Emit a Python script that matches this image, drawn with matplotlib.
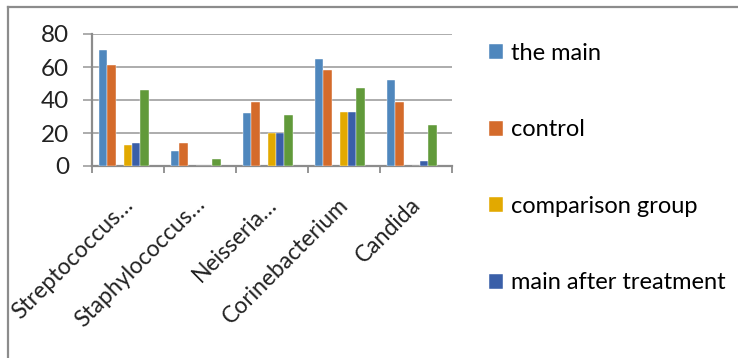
import matplotlib
matplotlib.use("Agg")
import matplotlib.pyplot as plt
import matplotlib.transforms as mtransforms
import numpy as np

# Microflora counts per group
categories = ["Streptococcus…", "Staphylococcus…", "Neisseria…", "Corinebacterium", "Candida"]
series_names = ["the main", "control", "comparison group", "main after treatment", "fifth group"]
the_main = [70, 9, 32, 65, 52]
control = [61, 14, 39, 58, 39]
comparison_group = [13, 0, 20, 33, 0]
main_after_treatment = [14, 0, 20, 33, 3]
fifth_group = [46, 4, 31, 47, 25]
y_ticks = [0, 20, 40, 60, 80]

series = [the_main, control, comparison_group, main_after_treatment, fifth_group]
colors = ["#4f87bd", "#d46b2b", "#e2a900", "#3a5fa8", "#619a3a"]
# slot index of each series inside a category (slots 2 and 6 stay empty)
slots = [0, 1, 3, 4, 5]
n_slots = 7

FONT = "Lato"
W, H = 738, 358
fig = plt.figure(figsize=(W / 100, H / 100), dpi=100)

# outer frame lines (left and top)
fig.add_artist(plt.Line2D([7.5 / W, 7.5 / W], [0, 1 - 6.5 / H], transform=fig.transFigure,
                          color="#8c8c8c", lw=1.6))
fig.add_artist(plt.Line2D([7.5 / W, 1], [1 - 6.5 / H, 1 - 6.5 / H], transform=fig.transFigure,
                          color="#8c8c8c", lw=1.6))

x0, x1 = 92, 452
y_top, y_bot = 34, 166
ax = fig.add_axes([x0 / W, 1 - y_bot / H, (x1 - x0) / W, (y_bot - y_top) / H])

n = len(categories)
x = np.arange(n)
gap = 0.2
bw = (1 - gap) / n_slots
bars = []
for vals, col, slot, name in zip(series, colors, slots, series_names):
    pos = x - 0.5 + gap / 2 + bw * (slot + 0.5)
    b = ax.bar(pos, vals, width=bw, color=col, edgecolor="white", linewidth=0.3, label=name, zorder=3)
    bars.append(b)

ax.set_xlim(-0.5, n - 0.5)
ax.set_ylim(0, 80)
ax.set_yticks(y_ticks)
ax.set_yticklabels([str(v) for v in y_ticks], fontsize=17.5, family=FONT, color="#222222")
ax.yaxis.grid(True, color="#a6a6a6", lw=1.3, zorder=0)
ax.tick_params(axis="y", length=6.5, width=1.3, color="#a6a6a6", pad=10)

ax.set_xticks(x)
ax.set_xticklabels(categories, rotation=45, ha="right", va="top", rotation_mode="anchor",
                   fontsize=16.5, family=FONT, color="#222222")
ax.tick_params(axis="x", which="major", length=0, pad=20)
shift = mtransforms.ScaledTranslation(-6 / 100, 0, fig.dpi_scale_trans)
for lbl in ax.get_xticklabels():
    lbl.set_transform(lbl.get_transform() + shift)
ax.set_xticks(np.arange(n + 1) - 0.5, minor=True)
ax.tick_params(axis="x", which="minor", length=5, width=1.3, color="#8c8c8c")

for s in ["top", "right"]:
    ax.spines[s].set_visible(False)
for s in ["left", "bottom"]:
    ax.spines[s].set_color("#8c8c8c")
    ax.spines[s].set_linewidth(1.6)
ax.set_axisbelow(True)

fig.legend(handles=bars[:4], loc="upper left", bbox_to_anchor=(489 / W, 1 - 43 / H),
           frameon=False, prop={"family": FONT, "size": 17},
           handlelength=0.6, handleheight=0.6, handletextpad=0.35,
           labelspacing=2.35, borderpad=0, borderaxespad=0)

fig.savefig("out.png", dpi=100)
